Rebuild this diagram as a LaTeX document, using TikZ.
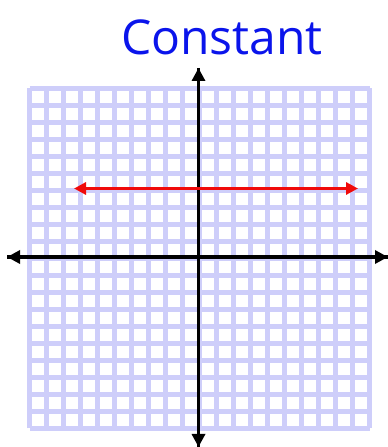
\documentclass[tikz,border=0pt]{standalone}
\usepackage{fontspec}
\usepackage{xcolor}
\usepackage{tikz}
\usetikzlibrary{arrows.meta, positioning}
\newfontfamily\handfont{Open Sans}
\definecolor{gridblue}{RGB}{206,206,250}
\definecolor{inkblue}{RGB}{10,20,235}
\definecolor{inkred}{RGB}{240,10,10}

\tikzset{
  gridline/.style={draw=gridblue, line width=4.5pt},
  axis/.style={draw=black, line width=3.2pt, -{Triangle[length=13pt,width=13pt]}},
  constline/.style={draw=inkred, line width=3.2pt, {Triangle[length=12pt,width=12pt]}-{Triangle[length=12pt,width=12pt]}}
}

\begin{document}
\begin{tikzpicture}[x=1pt, y=1pt]
        \useasboundingbox (0,0) rectangle (388,447);
        % background grid
        \foreach \i in {0,...,20} {
          \draw[gridline] (29.5+17*\i,18.5) -- (29.5+17*\i,358.5);
          \draw[gridline] (29.5,18.5+17*\i) -- (369.5,18.5+17*\i);
        }
        % title
        \node[text=inkblue, font=\handfont\fontsize{48}{54}\selectfont] (title) at (222,410) {Constant};
        % axes
        \coordinate (xleft) at (7,190);
        \coordinate (xright) at (388,190);
        \coordinate (ybottom) at (198.5,0);
        \coordinate (ytop) at (198.5,379);
        \draw[axis] (ybottom) -- (ytop);
        \draw[axis] (ytop) -- (ybottom);
        \draw[axis] (xright) -- (xleft);
        \draw[axis] (xleft) -- (xright);
        % constant function
        \coordinate (cleft) at (74,258.5);
        \coordinate (cright) at (358,258.5);
        \draw[constline] (cleft) -- (cright);
      \end{tikzpicture}
\end{document}
